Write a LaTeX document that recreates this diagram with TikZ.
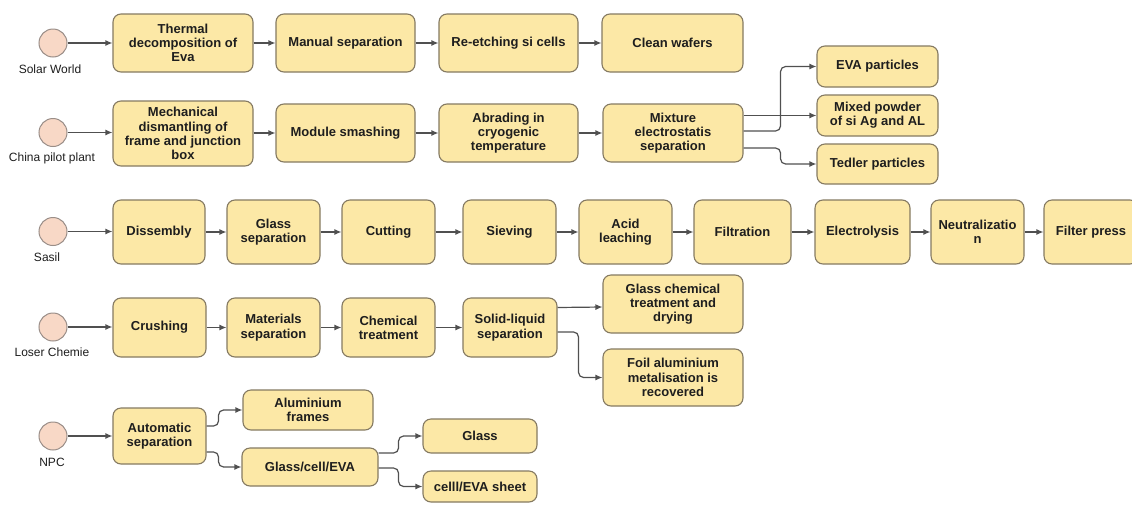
\documentclass[tikz,border=0pt]{standalone}
\usepackage{fontspec}
\setmainfont{Liberation Sans}
\usetikzlibrary{arrows.meta}
\definecolor{boxfill}{HTML}{FCE8A6}
\definecolor{boxline}{HTML}{857A62}
\definecolor{circfill}{HTML}{F8D8C6}
\definecolor{circline}{HTML}{9A8E88}
\definecolor{conn}{HTML}{505050}
\definecolor{txt}{HTML}{1E1E1E}
\begin{document}
\begin{tikzpicture}[x=1pt,y=-1pt,
  proc/.style={draw=boxline, fill=boxfill, rounded corners=8pt, line width=1.1pt, align=center, text=txt, font=\fontsize{13}{14.3}\selectfont\bfseries, inner sep=0pt},
  bx/.style 2 args={proc, minimum width=#1, minimum height=#2},
  src/.style={circle, draw=circline, fill=circfill, line width=1pt, minimum size=28pt, inner sep=0pt},
  lbl/.style={font=\fontsize{12}{14}\selectfont, text=txt, inner sep=0pt},
  arr/.style={draw=conn, line width=1.2pt, -{Latex[length=7pt,width=6pt]}, rounded corners=5pt}]
\fill[white] (0,0) rectangle (1132,504);
\clip (0,0) rectangle (1132,504);

% ---------- Row 1: Solar World ----------
\node[src] (c1) at (53,43) {};
\node[lbl] (l1) at (50,69) {Solar World};
\node[bx={140pt}{58pt}] (r1a) at (183,43) {Thermal\\decomposition of\\Eva};
\node[bx={139pt}{58pt}] (r1b) at (345.5,43) {Manual separation};
\node[bx={139pt}{58pt}] (r1c) at (508.5,43) {Re-etching si cells};
\node[bx={141pt}{58pt}] (r1d) at (672.5,43) {Clean wafers};
\draw[arr] (c1.east) -- (c1.east -| r1a.west);
\draw[arr] (r1a) -- (r1b);
\draw[arr] (r1b) -- (r1c);
\draw[arr] (r1c) -- (r1d);

% ---------- Row 2: China pilot plant ----------
\node[src] (c2) at (53,132.5) {};
\node[lbl] (l2) at (52,158) {China pilot plant};
\node[bx={140pt}{65pt}] (r2a) at (183,133.5) {Mechanical\\dismantling of\\frame and junction\\box};
\node[bx={139pt}{58pt}] (r2b) at (345.5,133) {Module smashing};
\node[bx={139pt}{58pt}] (r2c) at (508.5,133) {Abrading in\\cryogenic\\temperature};
\node[bx={140pt}{58pt}] (r2d) at (673,133) {Mixture\\electrostatis\\separation};
\node[bx={121pt}{41pt}] (eva) at (877.5,66.5) {EVA particles};
\node[bx={121pt}{41pt}] (mix) at (877.5,115.5) {Mixed powder\\of si Ag and AL};
\node[bx={121pt}{40pt}] (ted) at (877.5,164) {Tedler particles};
\draw[arr] (c2.east) -- (c2.east -| r2a.west);
\draw[arr] (r2a.east |- r2b.west) -- (r2b.west);
\draw[arr] (r2b) -- (r2c);
\draw[arr] (r2c) -- (r2d);
\draw[arr] (r2d.east |- mix.west) -- (mix.west);
\draw[arr] ([yshift=2pt]r2d.east) -- ++(37,0) |- (eva.west);
\draw[arr] ([yshift=-15pt]r2d.east) -- ++(37,0) |- (ted.west);

% ---------- Row 3: Sasil ----------
\node[src] (c3) at (53,231.5) {};
\node[lbl] (l3) at (47,257) {Sasil};
\node[bx={92pt}{64pt}] (dis) at (159,232) {Dissembly};
\node[bx={93pt}{64pt}] (gls) at (273.5,232) {Glass\\separation};
\node[bx={93pt}{64pt}] (cut) at (388.5,232) {Cutting};
\node[bx={93pt}{64pt}] (sie) at (509.5,232) {Sieving};
\node[bx={93pt}{64pt}] (acid) at (625.5,232) {Acid\\leaching};
\node[bx={97pt}{64pt}] (filt) at (742.5,232) {Filtration};
\node[bx={95pt}{64pt}] (ele) at (862.5,232) {Electrolysis};
\node[bx={93pt}{64pt}] (neu) at (977.5,232) {Neutralizatio\\n};
\node[bx={94pt}{64pt}] (fp) at (1091,232) {Filter press};
\draw[arr] (c3.east) -- (c3.east -| dis.west);
\draw[arr] (dis) -- (gls);
\draw[arr] (gls) -- (cut);
\draw[arr] (cut) -- (sie);
\draw[arr] (sie) -- (acid);
\draw[arr] (acid) -- (filt);
\draw[arr] (filt) -- (ele);
\draw[arr] (ele) -- (neu);
\draw[arr] (neu) -- (fp);

% ---------- Row 4: Loser Chemie ----------
\node[src] (c4) at (53,327) {};
\node[lbl] (l4) at (52,352.5) {Loser Chemie};
\node[bx={93pt}{59pt}] (cru) at (159.5,327.5) {Crushing};
\node[bx={93pt}{59pt}] (mat) at (273.5,327.5) {Materials\\separation};
\node[bx={93pt}{59pt}] (che) at (388.5,327.5) {Chemical\\treatment};
\node[bx={94pt}{59pt}] (sol) at (510,327.5) {Solid-liquid\\separation};
\node[bx={140pt}{58pt}] (gct) at (673,304) {Glass chemical\\treatment and\\drying};
\node[bx={140pt}{57pt}] (foil) at (673,377.5) {Foil aluminium\\metalisation is\\recovered};
\draw[arr] (c4.east) -- (c4.east -| cru.west);
\draw[arr] (cru) -- (mat);
\draw[arr] (mat) -- (che);
\draw[arr] (che) -- (sol);
\draw[arr] ([yshift=20pt]sol.east) -- ([yshift=-3pt]gct.west);
\draw[arr] ([yshift=-4.5pt]sol.east) -- ++(21,0) |- (foil.west);

% ---------- Row 5: NPC ----------
\node[src] (c5) at (53,436) {};
\node[lbl] (l5) at (52,462) {NPC};
\node[bx={93pt}{56pt}] (aut) at (159.5,436) {Automatic\\separation};
\node[bx={130pt}{40pt}] (alu) at (308,410) {Aluminium\\frames};
\node[bx={136pt}{38pt}] (gce) at (310,467) {Glass/cell/EVA};
\node[bx={114pt}{34pt}] (glass) at (480,436) {Glass};
\node[bx={114pt}{31pt}] (sheet) at (480,486.5) {celll/EVA sheet};
\draw[arr] (c5.east) -- (c5.east -| aut.west);
\draw[arr] ([yshift=10pt]aut.east) -- ++(12,0) |- (alu.west);
\draw[arr] ([yshift=-16pt]aut.east) -- ++(12,0) |- (gce.west);
\draw[arr] ([yshift=14pt]gce.east) -- ++(20,0) |- (glass.west);
\draw[arr] ([yshift=-1pt]gce.east) -- ++(20,0) |- (sheet.west);
\end{tikzpicture}
\end{document}
